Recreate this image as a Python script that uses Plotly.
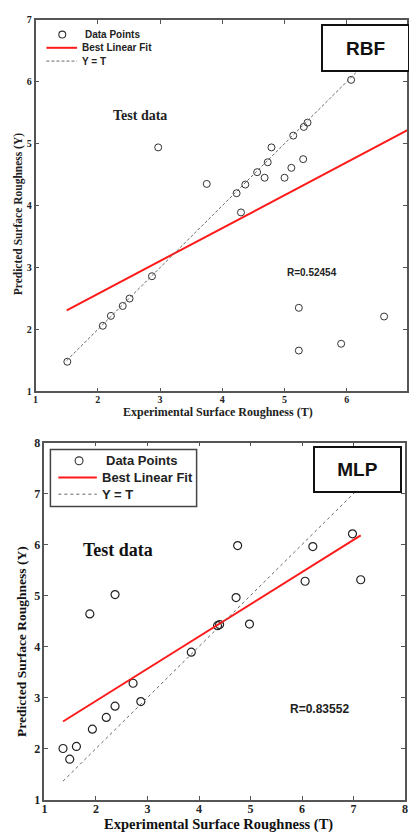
import plotly.graph_objects as go

# ---------------- data ----------------
rbf_T = [1.51, 2.08, 2.21, 2.40, 2.51, 2.87, 2.97, 3.75, 4.23, 4.30, 4.37, 4.56, 4.68,
         4.73, 4.79, 5.00, 5.11, 5.14, 5.23, 5.23, 5.30, 5.31, 5.37, 5.91, 6.07, 6.60]
rbf_Y = [1.48, 2.06, 2.22, 2.38, 2.50, 2.86, 4.94, 4.35, 4.20, 3.89, 4.34, 4.54, 4.45,
         4.70, 4.94, 4.45, 4.61, 5.13, 2.35, 1.66, 4.75, 5.27, 5.34, 1.77, 6.03, 2.21]
rbf_fit_x = [1.5, 7.0]
rbf_fit_y = [2.31, 5.23]
rbf_id = [1.5, 6.6]
rbf_R = "R=0.52454"

mlp_T = [1.36, 1.49, 1.62, 1.88, 1.93, 2.20, 2.37, 2.37, 2.72, 2.87, 3.85, 4.36, 4.40,
         4.72, 4.75, 4.98, 6.06, 6.21, 6.98, 7.14]
mlp_Y = [2.00, 1.79, 2.04, 4.64, 2.38, 2.61, 2.83, 5.02, 3.28, 2.92, 3.89, 4.41, 4.43,
         4.96, 5.98, 4.44, 5.28, 5.96, 6.21, 5.31]
mlp_fit_x = [1.36, 7.14]
mlp_fit_y = [2.53, 6.18]
mlp_id = [1.36, 7.14]
mlp_R = "R=0.83552"

top_ticks = [1, 2, 3, 4, 5, 6, 7]
bot_ticks = [1, 2, 3, 4, 5, 6, 7, 8]
legend_names = ["Data Points", "Best Linear Fit", "Y = T"]

W, H = 409, 836
def px(x):
    return x / W
def py(y):
    return 1 - y / H

SERIF = "Liberation Serif"
SANS = "Liberation Sans"
AXC = "#555555"
RED = "#ff1a1a"
DASHC = "#666666"

fig = go.Figure()

# top (RBF)
fig.add_trace(go.Scatter(x=rbf_T, y=rbf_Y, mode="markers", name=legend_names[0],
                         marker=dict(symbol="circle-open", size=7, color="#333333", line=dict(width=1)),
                         xaxis="x", yaxis="y", showlegend=False))
fig.add_trace(go.Scatter(x=rbf_fit_x, y=rbf_fit_y, mode="lines", name=legend_names[1],
                         line=dict(color=RED, width=2), xaxis="x", yaxis="y", showlegend=False))
fig.add_trace(go.Scatter(x=rbf_id, y=rbf_id, mode="lines", name=legend_names[2],
                         line=dict(color=DASHC, width=1, dash="3px,2px"),
                         xaxis="x", yaxis="y", showlegend=False))

# bottom (MLP)
fig.add_trace(go.Scatter(x=mlp_T, y=mlp_Y, mode="markers", name=legend_names[0],
                         marker=dict(symbol="circle-open", size=8, color="#222222", line=dict(width=1.2)),
                         xaxis="x2", yaxis="y2", showlegend=False))
fig.add_trace(go.Scatter(x=mlp_fit_x, y=mlp_fit_y, mode="lines", name=legend_names[1],
                         line=dict(color=RED, width=2), xaxis="x2", yaxis="y2", showlegend=False))
fig.add_trace(go.Scatter(x=mlp_id, y=mlp_id, mode="lines", name=legend_names[2],
                         line=dict(color=DASHC, width=1, dash="3px,3px"),
                         xaxis="x2", yaxis="y2", showlegend=False))

def axis(domain, rng, ticks, size, anchor, standoff=0):
    return dict(domain=domain, range=rng, tickvals=ticks, ticktext=[str(t) for t in ticks],
                showgrid=False, zeroline=False, showline=True, linecolor=AXC, linewidth=1.5,
                mirror="ticks", ticks="inside", ticklen=4, tickcolor=AXC, tickwidth=1,
                ticklabelstandoff=standoff,
                tickfont=dict(family=SERIF, size=size, color="#222222", weight="bold"),
                anchor=anchor)

fig.update_layout(
    width=W, height=H, margin=dict(l=0, r=0, t=0, b=0),
    paper_bgcolor="white", plot_bgcolor="white", showlegend=False, hovermode=False,
    xaxis=axis([px(33), 1.0], [1, 1 + (409 - 33) / 63.0], top_ticks, 10, "y", -2),
    yaxis=axis([py(391), py(13)], [1, 7], top_ticks, 10, "x"),
    xaxis2=axis([px(42), px(407)], [1, 8], bot_ticks, 12, "y2", -3),
    yaxis2=axis([py(806), py(443)], [1, 8], bot_ticks, 12, "x2"),
)

ann = []
shapes = []

def text(t, x, y, family, size, color="#222", xanchor="center", angle=0, **kw):
    ann.append(dict(text=t, x=px(x), y=py(y), xref="paper", yref="paper", xanchor=xanchor,
                    yanchor="middle", textangle=angle, showarrow=False,
                    font=dict(family=family, size=size, color=color, weight="bold"), **kw))

def legend_block(circle_c, circ_d, line_x0, line_x1, rows_y, text_x, fsize, dash):
    cx, cy = circle_c
    shapes.append(dict(type="circle", xref="paper", yref="paper",
                       x0=px(cx - circ_d / 2), x1=px(cx + circ_d / 2),
                       y0=py(cy + circ_d / 2), y1=py(cy - circ_d / 2),
                       line=dict(color="#333333", width=1.1)))
    shapes.append(dict(type="line", xref="paper", yref="paper", x0=px(line_x0), x1=px(line_x1),
                       y0=py(rows_y[1]), y1=py(rows_y[1]), line=dict(color=RED, width=2)))
    shapes.append(dict(type="line", xref="paper", yref="paper", x0=px(line_x0), x1=px(line_x1),
                       y0=py(rows_y[2]), y1=py(rows_y[2]), line=dict(color=DASHC, width=1, dash=dash)))
    for name, ry, tx in zip(legend_names, rows_y, text_x):
        text(name, tx, ry, SANS, fsize, xanchor="left")

# top legend (no border)
legend_block((60, 28), 7, 44, 75, [28, 41.5, 55], [81, 78, 78], 10, "3px,2px")

# bottom legend box
shapes.append(dict(type="rect", xref="paper", yref="paper", x0=px(48), x1=px(196),
                   y0=py(508), y1=py(450), fillcolor="white", line=dict(color="#444444", width=1.5)))
legend_block((77, 461.5), 8, 56, 95, [461.5, 478.5, 495.5], [102, 98, 98], 13, "3px,3px")

# top annotations
text("Test data", 139, 110, SERIF, 14)
text(rbf_R, 313, 270, SANS, 10)
ann.append(dict(text="RBF", x=px(322), y=py(17), xref="paper", yref="paper", xanchor="left", yanchor="top",
                showarrow=False, width=85, height=44, bgcolor="white", bordercolor="#111", borderwidth=2,
                borderpad=0, font=dict(family=SANS, size=19, color="#111", weight="bold")))
text("Experimental Surface Roughness (T)", 218, 412, SERIF, 12)
text("Predicted Surface Roughness (Y)", 16, 210, SERIF, 11.5, angle=-90)

# bottom annotations
text("Test data", 116, 552, SERIF, 18, color="#111")
text(mlp_R, 320, 714, SANS, 12)
ann.append(dict(text="MLP", x=px(314), y=py(446), xref="paper", yref="paper", xanchor="left", yanchor="top",
                showarrow=False, width=85, height=43, bgcolor="white", bordercolor="#111", borderwidth=2,
                borderpad=0, font=dict(family=SANS, size=19, color="#111", weight="bold")))
text("Experimental Surface Roughness (T)", 218, 831, SERIF, 14.5, color="#111")
text("Predicted Surface Roughness (Y)", 18, 645, SERIF, 13.5, color="#111", angle=-90)

fig.update_layout(annotations=ann, shapes=shapes)

fig.write_html("out.html", config={"displayModeBar": False},
               post_script="document.body.style.margin='0px';")
